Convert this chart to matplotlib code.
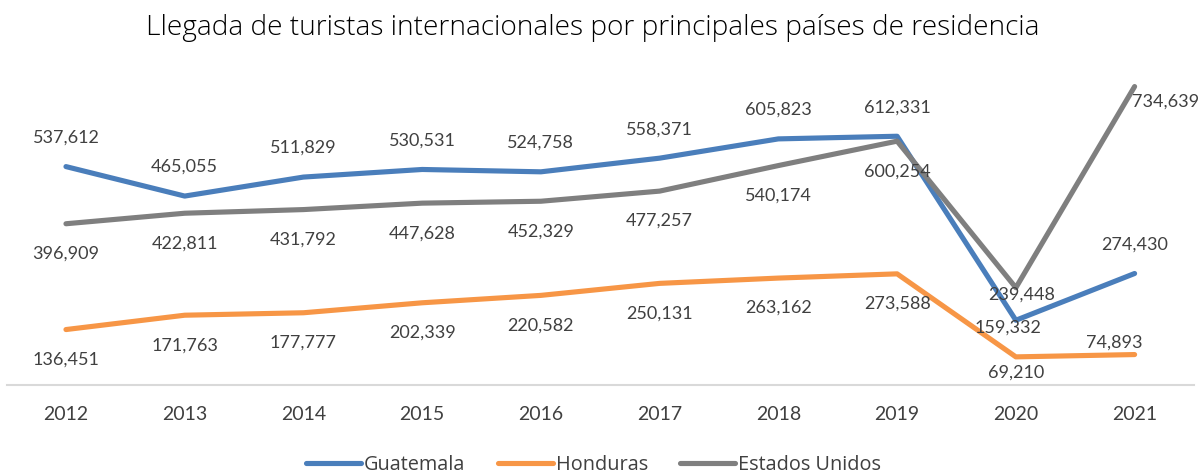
import matplotlib
matplotlib.use("Agg")
import matplotlib.pyplot as plt
from matplotlib.lines import Line2D

years = ["2012", "2013", "2014", "2015", "2016", "2017", "2018", "2019", "2020", "2021"]
guatemala = [537612, 465055, 511829, 530531, 524758, 558371, 605823, 612331, 159332, 274430]
honduras = [136451, 171763, 177777, 202339, 220582, 250131, 263162, 273588, 69210, 74893]
estados_unidos = [396909, 422811, 431792, 447628, 452329, 477257, 540174, 600254, 239448, 734639]

plt.rcParams['font.family'] = ['Lato', 'DejaVu Sans']

fig = plt.figure(figsize=(11.99, 4.74), dpi=100)
ax = fig.add_axes([0.0055, 0.1878, 0.9903, 0.6856])

colors = {"g": "#4A7EBB", "h": "#F79646", "e": "#7F7F7F"}
x = list(range(len(years)))
lw = 3.7
ax.plot(x, guatemala, color=colors["g"], lw=lw, solid_capstyle='round', solid_joinstyle='round', zorder=3)
ax.plot(x, honduras, color=colors["h"], lw=lw, solid_capstyle='round', solid_joinstyle='round', zorder=3)
ax.plot(x, estados_unidos, color=colors["e"], lw=lw, solid_capstyle='round', solid_joinstyle='round', zorder=3)

ax.set_xlim(-0.5, len(years) - 0.5)
ax.set_ylim(0, 800000)
for s in ["top", "right", "left"]:
    ax.spines[s].set_visible(False)
ax.spines["bottom"].set_color("#D9D9D9")
ax.spines["bottom"].set_linewidth(1.5)
ax.set_yticks([])
ax.set_xticks(x)
ax.set_xticklabels(years, fontsize=14, color="#404040")
ax.tick_params(axis='x', length=0, pad=15)

lab_kw = dict(textcoords='offset pixels', fontsize=13, color="#404040", zorder=5)

def fmt(v):
    return f"{v:,}"

for i, v in enumerate(guatemala):
    off = (-8, -7) if i == 8 else (0, 29)
    ax.annotate(fmt(v), (i, v), xytext=off, ha='center', va='center', **lab_kw)

for i, v in enumerate(honduras):
    if i == 8:
        off = (0, -16)
    elif i == 9:
        off = (-20, 12)
    else:
        off = (0, -30)
    ax.annotate(fmt(v), (i, v), xytext=off, ha='center', va='center', **lab_kw)

for i, v in enumerate(estados_unidos):
    if i == 8:
        ax.annotate(fmt(v), (i, v), xytext=(6, -7), ha='center', va='center', **lab_kw)
    elif i == 9:
        ax.annotate(fmt(v), (i, v), xytext=(-3, -15), ha='left', va='center', annotation_clip=False, **lab_kw)
    else:
        ax.annotate(fmt(v), (i, v), xytext=(0, -30), ha='center', va='center', **lab_kw)

fig.text(0.4945, 0.94, "Llegada de turistas internacionales por principales países de residencia",
         ha='center', va='center', fontsize=20.2, color="#000000",
         family=['Open Sans', 'DejaVu Sans'], fontweight='light')

handles = [Line2D([0], [0], color=colors["g"], lw=lw, solid_capstyle='round'),
           Line2D([0], [0], color=colors["h"], lw=lw, solid_capstyle='round'),
           Line2D([0], [0], color=colors["e"], lw=lw, solid_capstyle='round')]
leg = fig.legend(handles, ["Guatemala", "Honduras", "Estados Unidos"], loc='center',
           bbox_to_anchor=(0.495, 0.019), ncol=3, frameon=False,
           prop={'family': ['Open Sans', 'DejaVu Sans'], 'size': 14.3},
           handlelength=2.77, handletextpad=0.15, columnspacing=1.62,
           labelcolor="#404040")

fig.savefig("out.png", dpi=100)
